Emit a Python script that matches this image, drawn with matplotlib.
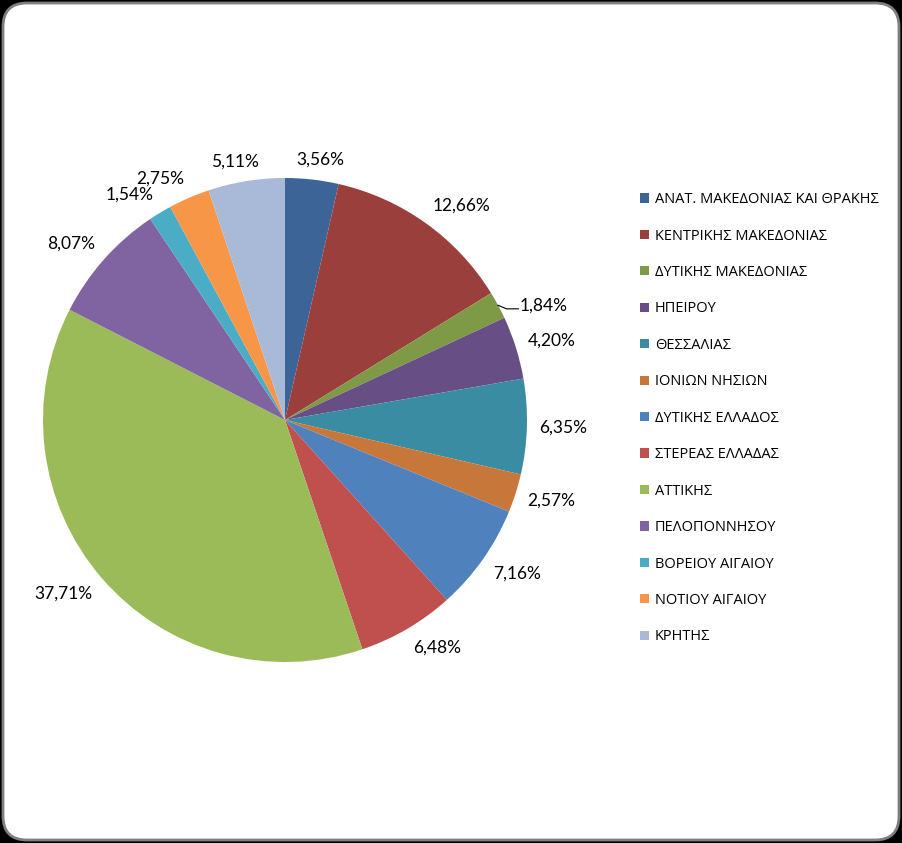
import numpy as np
import matplotlib
matplotlib.use('Agg')
import matplotlib.pyplot as plt
from matplotlib.patches import FancyBboxPatch

regions = ['ΑΝΑΤ. ΜΑΚΕΔΟΝΙΑΣ ΚΑΙ ΘΡΑΚΗΣ', 'ΚΕΝΤΡΙΚΗΣ ΜΑΚΕΔΟΝΙΑΣ', 'ΔΥΤΙΚΗΣ ΜΑΚΕΔΟΝΙΑΣ',
           'ΗΠΕΙΡΟΥ', 'ΘΕΣΣΑΛΙΑΣ', 'ΙΟΝΙΩΝ ΝΗΣΙΩΝ', 'ΔΥΤΙΚΗΣ ΕΛΛΑΔΟΣ', 'ΣΤΕΡΕΑΣ ΕΛΛΑΔΑΣ',
           'ΑΤΤΙΚΗΣ', 'ΠΕΛΟΠΟΝΝΗΣΟΥ', 'ΒΟΡΕΙΟΥ ΑΙΓΑΙΟΥ', 'ΝΟΤΙΟΥ ΑΙΓΑΙΟΥ', 'ΚΡΗΤΗΣ']
shares = [3.56, 12.66, 1.84, 4.20, 6.35, 2.57, 7.16, 6.48, 37.71, 8.07, 1.54, 2.75, 5.11]
colors = ['#3c6496', '#9b3f3c', '#7e9a46', '#674f86', '#3a8ca3', '#c8773a',
          '#4f81bd', '#c0504d', '#9bbb59', '#8064a2', '#4bacc6', '#f79646', '#a9b9d8']

W, H = 902, 843
fig = plt.figure(figsize=(W / 100, H / 100), dpi=100, facecolor='black')

# rounded white chart area
bg = fig.add_axes([0, 0, 1, 1])
bg.set_xlim(0, W)
bg.set_ylim(0, H)
bg.axis('off')
bg.add_patch(FancyBboxPatch((3, 3), W - 6, H - 6, boxstyle='round,pad=0,rounding_size=24',
                            facecolor='white', edgecolor='#7f7f7f', linewidth=2))

# pie axes: centre at (285, 420) px, radius 242 px
R = 242
lim = 1.2
cx, cy = 285, 420
ax = fig.add_axes([(cx - lim * R) / W, (H - cy - lim * R) / H, 2 * lim * R / W, 2 * lim * R / H])

wedges, _ = ax.pie(shares, colors=colors, startangle=90, counterclock=False,
                   wedgeprops=dict(linewidth=0.5, edgecolor='none'))
ax.set_xlim(-lim, lim)
ax.set_ylim(-lim, lim)
ax.axis('off')
for w in wedges:
    w.set_clip_on(False)

fig.canvas.draw()
renderer = fig.canvas.get_renderer()
px = 1.0 / R  # one pixel in data units

for w, v in zip(wedges, shares):
    theta = np.deg2rad((w.theta1 + w.theta2) / 2)
    c, s = np.cos(theta), np.sin(theta)
    label = f'{v:.2f}'.replace('.', ',') + '%'
    t = ax.text(0, 0, label, ha='center', va='center', fontsize=12.5,
                family=['Lato', 'DejaVu Sans'], color='black', clip_on=False)
    bb = t.get_window_extent(renderer)
    hw, hh = bb.width / 2 * px, bb.height / 2 * px
    rr = 1.05
    if v < 2 and c > 0:
        # small slice on the right: pushed out with a short leader line
        ax.plot([c, c * 1.03 + 2 * px, c * 1.03 + 14 * px], [s, s * 1.03 - 7 * px, s * 1.03 - 7 * px],
                color='black', lw=0.8, clip_on=False)
        t.set_position((c * 1.03 + 15 * px + hw, s * 1.03 - 4 * px))
        continue
    x = rr * c + np.clip(c * 2.5, -1, 1) * hw
    y = rr * s + np.clip(s * 1.5, -1, 1) * hh
    t.set_position((x, y))

handles = [plt.Rectangle((0, 0), 1, 1, facecolor=col) for col in colors]
fig.legend(handles, regions, loc='upper left', bbox_to_anchor=(627 / W, 1 - 179 / H),
           frameon=False, prop={'family': 'Open Sans', 'size': 10.5},
           handlelength=0.6, handleheight=0.6, handletextpad=0.4, labelspacing=1.47)

fig.savefig('out.png', dpi=100, facecolor='black')
